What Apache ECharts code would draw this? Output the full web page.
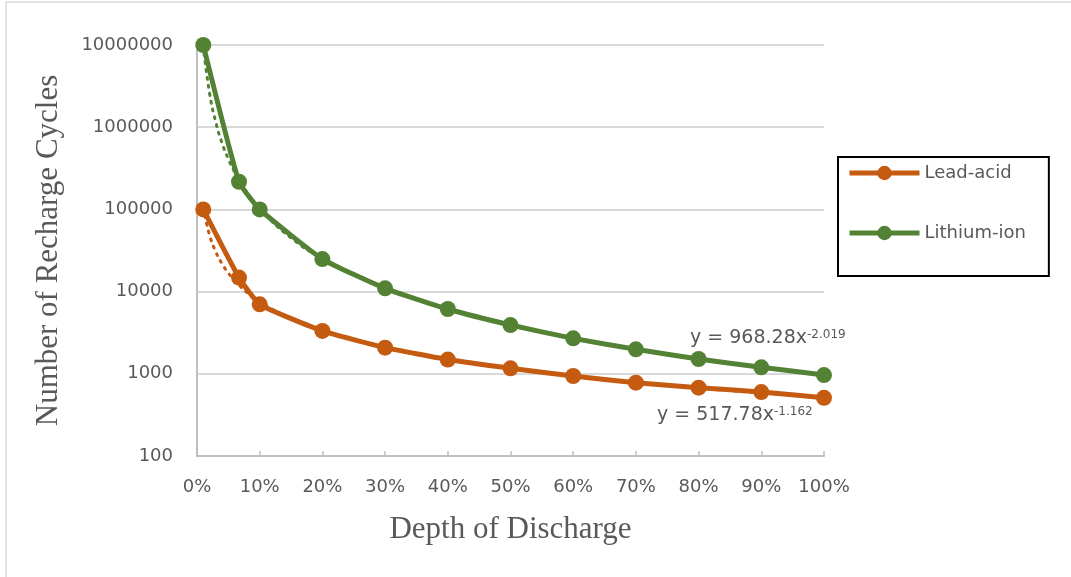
<!DOCTYPE html>
<html lang="en">
<head>
    <meta charset="UTF-8">
    <title>Depth of Discharge vs Recharge Cycles</title>
    <script src="https://cdn.jsdelivr.net/npm/echarts@6/dist/echarts.min.js"></script>
    <style>
        html, body { margin: 0; padding: 0; background: #fff; }
    </style>
</head>
<body>
<div id="main" style="width: 1071px;height:577px;"></div>
<script type="text/javascript">
    // depth of discharge (fraction) for the measured points
    var depth = [0.01, 0.067, 0.1, 0.2, 0.3, 0.4, 0.5, 0.6, 0.7, 0.8, 0.9, 1.0];
    var leadAcid = [100000, 14800, 7000, 3320, 2080, 1490, 1165, 940, 780, 678, 600, 510];
    var lithiumIon = [10000000, 217000, 100000, 24900, 10950, 6140, 3920, 2700, 1985, 1515, 1200, 966];

    // dotted power trendlines
    var trendDepth = [0.01, 0.02, 0.03, 0.04, 0.05, 0.06, 0.07, 0.08, 0.1, 0.15, 0.2, 0.3, 0.4, 0.5, 0.6, 0.7, 0.8, 0.9, 1.0];
    var leadTrend = [105000, 48800, 30500, 21800, 16800, 13600, 11400, 9700, 7500, 4700, 3360, 2100, 1500, 1160, 937, 784, 671, 585, 518];
    var lithiumTrend = [9800000, 2600000, 1150000, 640000, 410000, 285000, 210000, 160000, 102000, 45000, 25500, 11300, 6300, 4000, 2700, 2000, 1500, 1200, 968];

    var seriesNames = ['Lead-acid', 'Lithium-ion'];
    var colors = ['#C55A11', '#548235'];
    var trendLabels = [['517.78', '-1.162'], ['968.28', '-2.019']];

    function pairs(xs, ys) {
        var out = [];
        for (var i = 0; i < xs.length; i++) out.push([xs[i], ys[i]]);
        return out;
    }

    var myChart = echarts.init(document.getElementById('main'));
    var font = 'DejaVu Sans';
    var grey = '#595959';

    myChart.setOption({
        animation: false,
        textStyle: { fontFamily: font },
        grid: { left: 197, right: 247, top: 45, bottom: 121 },
        legend: {
            orient: 'vertical',
            left: 838,
            top: 157,
            data: seriesNames,
            itemWidth: 70,
            itemHeight: 18,
            itemGap: 42,
            padding: [7, 23, 34, 9],
            borderColor: '#000',
            borderWidth: 2,
            lineStyle: { width: 5 },
            textStyle: { fontSize: 18, color: grey, fontFamily: font }
        },
        xAxis: {
            type: 'value',
            min: 0,
            max: 1,
            interval: 0.1,
            axisLine: { show: true, lineStyle: { color: '#bfbfbf', width: 2 } },
            axisTick: { show: true, inside: true, length: 5, lineStyle: { color: '#bfbfbf', width: 1.5 } },
            splitLine: { show: false },
            axisLabel: {
                margin: 22,
                fontSize: 18,
                color: grey,
                fontFamily: font,
                formatter: function (v) { return Math.round(v * 100) + '%'; }
            },
            name: 'Depth of Discharge',
            nameLocation: 'middle',
            nameGap: 58,
            nameTextStyle: { fontFamily: 'Liberation Serif', fontSize: 31, color: grey }
        },
        yAxis: {
            type: 'log',
            logBase: 10,
            min: 100,
            max: 10000000,
            axisLine: { show: true, lineStyle: { color: '#bfbfbf', width: 2 } },
            axisTick: { show: false },
            splitLine: { show: true, lineStyle: { color: '#d9d9d9', width: 2 } },
            axisLabel: {
                margin: 24,
                fontSize: 18,
                color: grey,
                fontFamily: font,
                formatter: function (v) { return String(Math.round(v)); }
            },
            name: 'Number of Recharge Cycles',
            nameLocation: 'middle',
            nameGap: 133,
            nameTextStyle: { fontFamily: 'Liberation Serif', fontSize: 31, color: grey }
        },
        graphic: [
            {
                type: 'rect',
                shape: { x: 6, y: 2, width: 1200, height: 700 },
                style: { fill: 'none', stroke: '#d9d9d9', lineWidth: 1.5 },
                silent: true
            },
            {
                type: 'text',
                left: 690,
                top: 329,
                style: {
                    text: '{a|y = ' + trendLabels[1][0] + 'x}{s|' + trendLabels[1][1] + '}',
                    rich: {
                        a: { fontSize: 19, fill: grey, fontFamily: font },
                        s: { fontSize: 12, fill: grey, fontFamily: font, verticalAlign: 'top' }
                    }
                }
            },
            {
                type: 'text',
                left: 657,
                top: 406,
                style: {
                    text: '{a|y = ' + trendLabels[0][0] + 'x}{s|' + trendLabels[0][1] + '}',
                    rich: {
                        a: { fontSize: 19, fill: grey, fontFamily: font },
                        s: { fontSize: 12, fill: grey, fontFamily: font, verticalAlign: 'top' }
                    }
                }
            }
        ],
        series: [
            {
                name: 'Lead-acid trend',
                type: 'line',
                data: pairs(trendDepth, leadTrend),
                smooth: true,
                showSymbol: false,
                silent: true,
                lineStyle: { color: colors[0], width: 3, type: [2, 6], cap: 'round' },
                z: 1
            },
            {
                name: 'Lithium-ion trend',
                type: 'line',
                data: pairs(trendDepth, lithiumTrend),
                smooth: true,
                showSymbol: false,
                silent: true,
                lineStyle: { color: colors[1], width: 3, type: [2, 6], cap: 'round' },
                z: 1
            },
            {
                name: seriesNames[0],
                type: 'line',
                data: pairs(depth, leadAcid),
                smooth: 0.15,
                symbol: 'circle',
                symbolSize: 16,
                color: colors[0],
                itemStyle: { color: colors[0] },
                lineStyle: { color: colors[0], width: 5 },
                z: 3
            },
            {
                name: seriesNames[1],
                type: 'line',
                data: pairs(depth, lithiumIon),
                smooth: 0.15,
                symbol: 'circle',
                symbolSize: 16,
                color: colors[1],
                itemStyle: { color: colors[1] },
                lineStyle: { color: colors[1], width: 5 },
                z: 3
            }
        ]
    });
</script>
</body>
</html>
